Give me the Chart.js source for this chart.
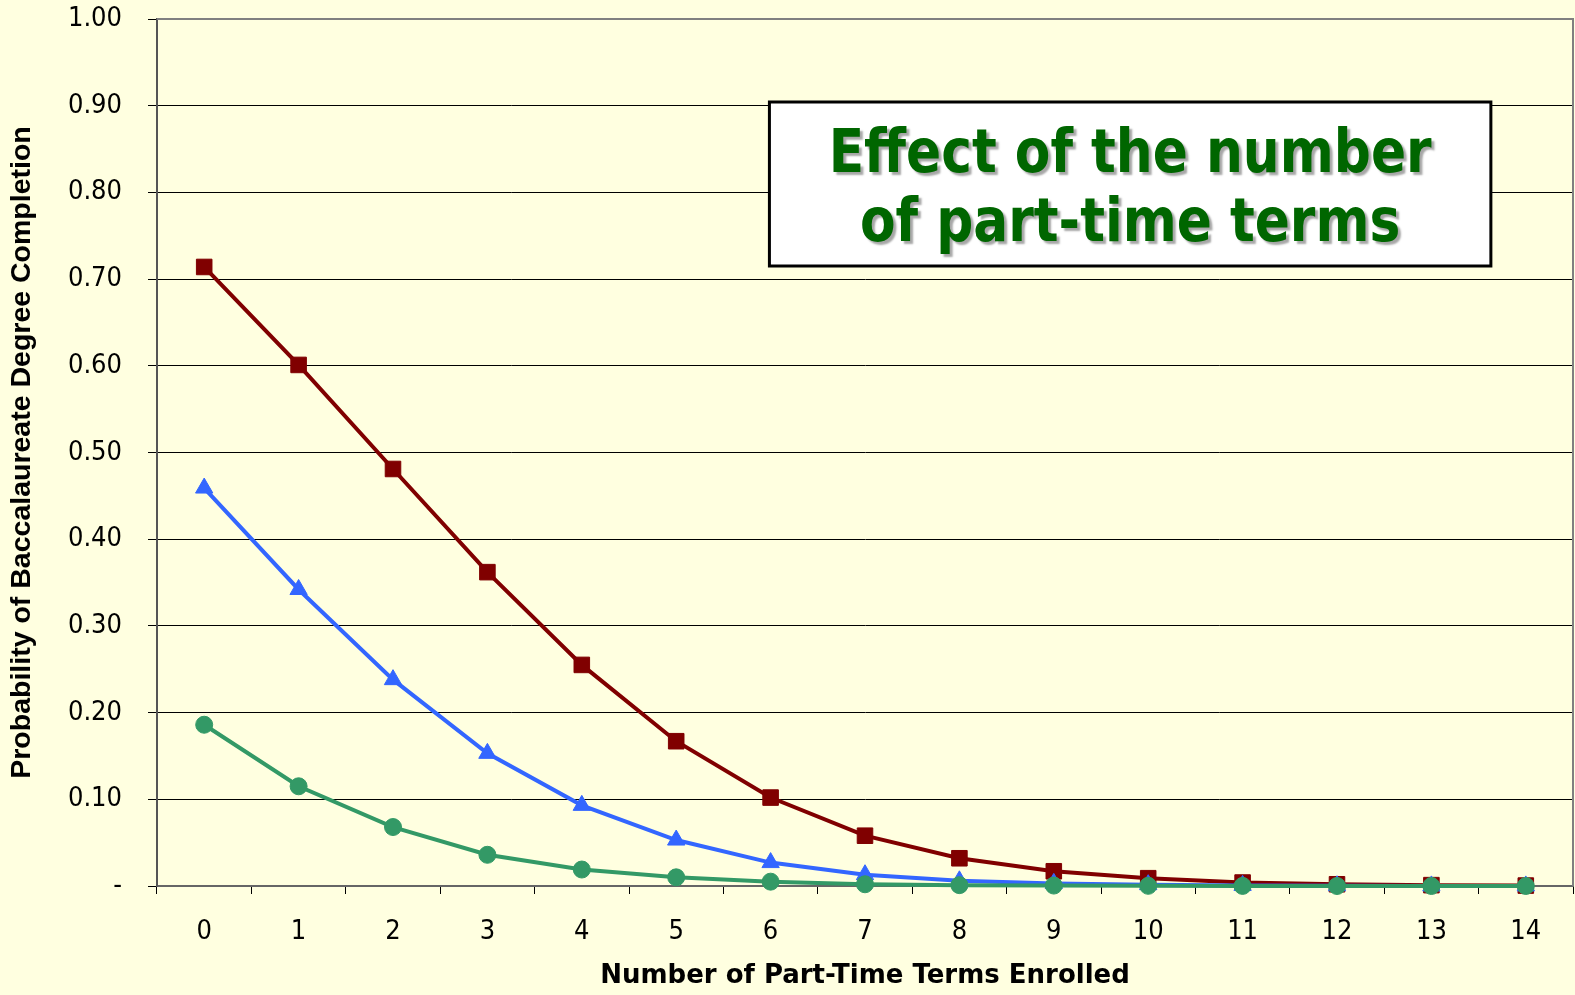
<!DOCTYPE html>
<html>
<head>
<meta charset="utf-8">
<title>Effect of the number of part-time terms</title>
<script src="https://cdn.jsdelivr.net/npm/chart.js@4.4.1/dist/chart.umd.min.js"></script>
<style>
  html, body { margin: 0; padding: 0; background: #FFFFE0; }
  #wrap { width: 1575px; height: 995px; }
</style>
</head>
<body>
<div id="wrap"><canvas id="probChart" width="1575" height="995"></canvas></div>
<script>
const terms = ["0", "1", "2", "3", "4", "5", "6", "7", "8", "9", "10", "11", "12", "13", "14"];
const redSeries = [0.714, 0.601, 0.481, 0.362, 0.255, 0.167, 0.102, 0.058, 0.032, 0.017, 0.009, 0.004, 0.002, 0.001, 0.0005];
const blueSeries = [0.459, 0.342, 0.238, 0.153, 0.093, 0.053, 0.027, 0.013, 0.006, 0.003, 0.0015, 0.0007, 0.0003, 0.0001, 0.0001];
const greenSeries = [0.186, 0.115, 0.068, 0.036, 0.019, 0.010, 0.005, 0.002, 0.001, 0.0005, 0.0002, 0.0001, 0, 0, 0];
const yTicks = [0, 0.1, 0.2, 0.3, 0.4, 0.5, 0.6, 0.7, 0.8, 0.9, 1.0];
const titleLines = ["Effect of the number", "of part-time terms"];
const xTitle = "Number of Part-Time Terms Enrolled";
const yTitle = "Probability of Baccalaureate Degree Completion";

const tickFont = { family: "'DejaVu Sans Condensed', 'DejaVu Sans', sans-serif", size: 27 };

// grey border on top and right of the plot area
const plotBorder = {
  id: "plotBorder",
  beforeDatasetsDraw(chart) {
    const { ctx, chartArea: a } = chart;
    ctx.save();
    ctx.strokeStyle = "#808080";
    ctx.lineWidth = 2;
    ctx.beginPath();
    ctx.moveTo(a.left, a.top);
    ctx.lineTo(a.right, a.top);
    ctx.lineTo(a.right, a.bottom);
    ctx.stroke();
    ctx.restore();
  }
};

// white boxed title inside the plot
const titleBox = {
  id: "titleBox",
  afterDraw(chart) {
    const { ctx, chartArea: a } = chart;
    const w = a.right - a.left;
    const x0 = a.left + w * 0.4325;
    const x1 = a.left + w * 0.9420;
    const y0 = a.top + 83;
    const y1 = a.top + 247;
    ctx.save();
    ctx.fillStyle = "#FFFFFF";
    ctx.fillRect(x0, y0, x1 - x0, y1 - y0);
    ctx.strokeStyle = "#000000";
    ctx.lineWidth = 3;
    ctx.strokeRect(x0, y0, x1 - x0, y1 - y0);

    ctx.font = "bold 60px 'DejaVu Sans Condensed', 'DejaVu Sans', sans-serif";
    ctx.textAlign = "center";
    ctx.textBaseline = "alphabetic";
    const cx = (x0 + x1) / 2;
    const target = 603;
    const measured = ctx.measureText(titleLines[0]).width;
    const sx = Math.min(1, target / measured);
    ctx.fillStyle = "#006600";
    ctx.shadowColor = "rgba(0,0,0,0.35)";
    ctx.shadowOffsetX = 3;
    ctx.shadowOffsetY = 3;
    ctx.shadowBlur = 2;
    const baselines = [y0 + 70, y0 + 139];
    titleLines.forEach((line, i) => {
      ctx.save();
      ctx.translate(cx, baselines[i]);
      ctx.scale(sx, 1);
      ctx.fillText(line, 0, 0);
      ctx.restore();
    });
    ctx.restore();
  }
};

document.addEventListener("DOMContentLoaded", function () {
  const ctx = document.getElementById("probChart").getContext("2d");

  new Chart(ctx, {
    type: "line",
    data: {
      labels: terms,
      datasets: [
        {
          label: "Series 1",
          data: redSeries,
          borderColor: "#800000",
          backgroundColor: "#800000",
          borderWidth: 4,
          pointStyle: "rect",
          pointRadius: 11,
          pointBorderWidth: 1,
          pointBorderColor: "#800000",
          tension: 0,
          clip: false,
          order: 2
        },
        {
          label: "Series 2",
          data: blueSeries,
          borderColor: "#3366FF",
          backgroundColor: "#3366FF",
          borderWidth: 4,
          pointStyle: "triangle",
          pointRadius: 10,
          pointBorderWidth: 1,
          pointBorderColor: "#3366FF",
          tension: 0,
          clip: false,
          order: 1
        },
        {
          label: "Series 3",
          data: greenSeries,
          borderColor: "#339966",
          backgroundColor: "#339966",
          borderWidth: 4,
          pointStyle: "circle",
          pointRadius: 8.5,
          pointBorderWidth: 1,
          pointBorderColor: "#339966",
          tension: 0,
          clip: false,
          order: 0
        }
      ]
    },
    options: {
      responsive: false,
      devicePixelRatio: 1,
      animation: false,
      layout: { autoPadding: false, padding: { top: 19, right: 2, left: 0, bottom: 0 } },
      plugins: {
        legend: { display: false },
        tooltip: { enabled: false }
      },
      scales: {
        x: {
          offset: true,
          grid: {
            offset: true,
            drawOnChartArea: false,
            drawTicks: true,
            tickLength: 8,
            color: "#000000",
            lineWidth: 1
          },
          border: { display: true, color: "#666666", width: 2 },
          ticks: { color: "#000000", font: tickFont, padding: 22, maxRotation: 0, autoSkip: false },
          title: {
            display: true,
            text: xTitle,
            color: "#000000",
            font: { family: "'DejaVu Sans', sans-serif", size: 26, weight: "bold" },
            padding: { top: 0, bottom: 3 }
          },
          afterFit(scale) {
            scale.height = 109;
            scale.paddingLeft = 0;
            scale.paddingRight = 0;
          }
        },
        y: {
          min: 0,
          max: 1,
          afterBuildTicks(scale) { scale.ticks = yTicks.map(v => ({ value: v })); },
          grid: {
            color: "#000000",
            lineWidth: 1,
            drawTicks: true,
            tickLength: 9
          },
          border: { display: true, color: "#555555", width: 2 },
          ticks: {
            color: "#000000",
            font: tickFont,
            padding: 26,
            callback: v => (v === 0 ? "-" : Number(v).toFixed(2))
          },
          title: {
            display: true,
            text: yTitle,
            color: "#000000",
            font: { family: "'Liberation Sans', Arial, sans-serif", size: 28.5, weight: "bold" },
            padding: { top: 5, bottom: 0 }
          },
          afterFit(scale) {
            scale.width = 157;
            scale.paddingTop = 0;
            scale.paddingBottom = 0;
          }
        }
      }
    },
    plugins: [plotBorder, titleBox]
  });
});
</script>
</body>
</html>
